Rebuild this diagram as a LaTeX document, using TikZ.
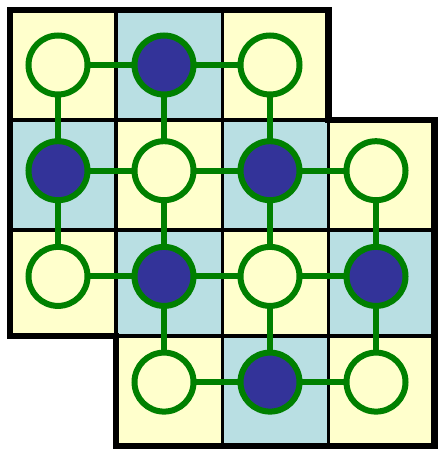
\documentclass[tikz,border=0pt]{standalone}
\usepackage{tikz}
\definecolor{celly}{HTML}{FFFFCC}
\definecolor{cellb}{HTML}{B9DFE3}
\definecolor{dotc}{HTML}{333399}
\definecolor{linkc}{HTML}{008000}
\def\colx{{10,116.1,222.2,328.3,434.4}}
\def\rowy{{10,120,230,336,446}}
\tikzset{
  site/.style={circle,draw=linkc,line width=6pt,minimum size=59pt,inner sep=0pt,outer sep=2.5pt},
  sitey/.style={site,fill=celly},
  siteb/.style={site,fill=dotc},
  link/.style={draw=linkc,line width=6pt},
  cellline/.style={draw=black,line width=3.3pt},
  rim/.style={draw=black,line width=6.5pt,miter limit=4},
}

\begin{document}
\begin{tikzpicture}[x=1pt,y=-1pt]
\useasboundingbox (0,0) rectangle (437,449);
% ---- cells ----
\foreach \c/\r/\k in {1/1/y,2/1/b,3/1/y, 1/2/b,2/2/y,3/2/b,4/2/y,
                      1/3/y,2/3/b,3/3/y,4/3/b, 2/4/y,3/4/b,4/4/y}{
  \pgfmathsetmacro\xa{\colx[\c-1]}\pgfmathsetmacro\xb{\colx[\c]}
  \pgfmathsetmacro\ya{\rowy[\r-1]}\pgfmathsetmacro\yb{\rowy[\r]}
  \fill[cell\k] (\xa,\ya) rectangle (\xb,\yb);
}
\foreach \c/\r in {1/1,2/1,3/1, 1/2,2/2,3/2,4/2, 1/3,2/3,3/3,4/3, 2/4,3/4,4/4}{
  \pgfmathsetmacro\xa{\colx[\c-1]}\pgfmathsetmacro\xb{\colx[\c]}
  \pgfmathsetmacro\ya{\rowy[\r-1]}\pgfmathsetmacro\yb{\rowy[\r]}
  \draw[cellline] (\xa,\ya) rectangle (\xb,\yb);
}
% ---- outline ----
\draw[rim] (10,10) -- (328.3,10) -- (328.3,120) -- (434.4,120) -- (434.4,446)
  -- (116.1,446) -- (116.1,336) -- (10,336) -- cycle;
% ---- sites ----
\foreach \c/\r/\k in {1/1/y,2/1/b,3/1/y, 1/2/b,2/2/y,3/2/b,4/2/y,
                      1/3/y,2/3/b,3/3/y,4/3/b, 2/4/y,3/4/b,4/4/y}{
  \node[site\k] (v\c\r) at ({58+106*(\c-1)},{65+105.7*(\r-1)}) {};
}
% ---- links ----
\foreach \a/\b in {v11/v21,v21/v31, v12/v22,v22/v32,v32/v42,
                   v13/v23,v23/v33,v33/v43, v24/v34,v34/v44,
                   v11/v12,v21/v22,v31/v32, v12/v13,v22/v23,v32/v33,v42/v43,
                   v23/v24,v33/v34,v43/v44}
  \draw[link] (\a) -- (\b);
\end{tikzpicture}
\end{document}
